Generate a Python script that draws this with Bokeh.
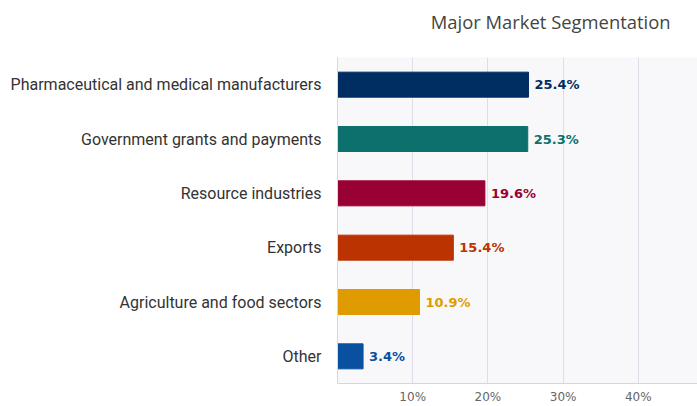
from bokeh.plotting import figure
from bokeh.models import ColumnDataSource, FactorRange, FixedTicker, PrintfTickFormatter, Title, Range1d
from bokeh.embed import file_html
from bokeh.resources import INLINE

categories = ["Pharmaceutical and medical manufacturers", "Government grants and payments",
              "Resource industries", "Exports", "Agriculture and food sectors", "Other"]
values = [25.4, 25.3, 19.6, 15.4, 10.9, 3.4]
colors = ["#002d62", "#0c706c", "#990033", "#bb3300", "#e09b00", "#0a50a1"]
labels = ["25.4%", "25.3%", "19.6%", "15.4%", "10.9%", "3.4%"]
ticks = [10, 20, 30, 40]
title_text = "Major Market Segmentation"

src = ColumnDataSource(dict(cat=categories, val=values, color=colors, label=labels))

p = figure(width=697, height=406, output_backend="svg", toolbar_location=None,
           y_range=FactorRange(factors=list(reversed(categories)), range_padding=0),
           x_range=Range1d(0, 47.87),
           min_border_left=337, min_border_right=0, min_border_top=57, min_border_bottom=21)

p.hbar(y="cat", right="val", left=0, height=0.46, color="color", source=src)
p.text(x="val", y="cat", text="label", source=src, x_offset=6, text_baseline="middle",
       text_color="color", text_font_size="13px", text_font_style="bold",
       text_font={"value": "DejaVu Sans"})

p.background_fill_color = "#f8f8fa"
p.border_fill_color = "white"
p.outline_line_color = None
p.ygrid.grid_line_color = None
p.xgrid.grid_line_color = "#dedee8"
p.xgrid.ticker = FixedTicker(ticks=ticks)

p.xaxis.ticker = FixedTicker(ticks=ticks)
p.xaxis.formatter = PrintfTickFormatter(format="%d%%")
p.xaxis.axis_line_color = "#d6d6de"
p.xaxis.major_tick_line_color = None
p.xaxis.minor_tick_line_color = None
p.xaxis.major_tick_out = 0
p.xaxis.major_tick_in = 0
p.xaxis.major_label_text_font = "DejaVu Sans"
p.xaxis.major_label_text_font_size = "12px"
p.xaxis.major_label_text_color = "#666666"
p.xaxis.major_label_standoff = 6

p.yaxis.axis_line_color = "#d6d6de"
p.yaxis.major_tick_line_color = None
p.yaxis.minor_tick_line_color = None
p.yaxis.major_tick_out = 0
p.yaxis.major_tick_in = 0
p.yaxis.major_label_text_font = "Roboto"
p.yaxis.major_label_text_font_size = "16px"
p.yaxis.major_label_text_color = "#333333"
p.yaxis.major_label_standoff = 16

# spacer (closest to the frame), then the real title further out
p.add_layout(Title(text=" ", text_font_size="2px", standoff=15), "above")
p.add_layout(Title(text=title_text, align="right", offset=27,
                   text_font="Open Sans", text_font_size="18.4px", text_font_style="normal",
                   text_color="#444444", standoff=10), "above")

open("out.html", "w").write(file_html(p, INLINE))
